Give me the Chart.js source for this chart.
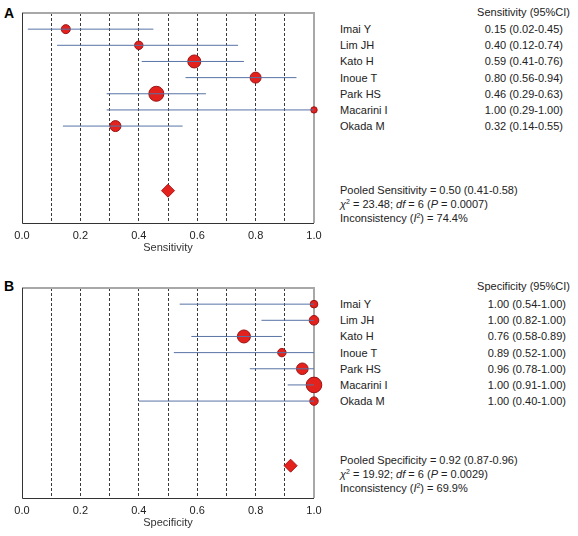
<!DOCTYPE html>
<html>
<head>
<meta charset="utf-8">
<script src="https://cdn.jsdelivr.net/npm/chart.js@4.4.0/dist/chart.umd.min.js"></script>
<style>
  html, body { margin:0; padding:0; background:#fff; }
  body { width:578px; height:536px; position:relative; overflow:hidden;
         font-family:"Liberation Sans", Arial, sans-serif; font-size:11px; color:#222; }
  .cv { position:absolute; left:0; width:330px; height:270px; }
  .t { position:absolute; line-height:14px; white-space:nowrap; }
  .r { text-align:right; }
  .lbl { position:absolute; font-weight:bold; font-size:14px; line-height:16px; color:#000; }
  sup { font-size:7px; vertical-align:top; position:relative; top:-2px; }
</style>
</head>
<body>
<div class="lbl" style="left:4px;top:5px;">A</div>
<div class="lbl" style="left:4px;top:278px;">B</div>
<canvas id="cA" class="cv" width="330" height="270" style="top:0px;"></canvas>
<canvas id="cB" class="cv" width="330" height="270" style="top:275px;"></canvas>
<div id="txt"></div>
<script>
// ---- data ----
const studies = ["Imai Y", "Lim JH", "Kato H", "Inoue T", "Park HS", "Macarini I", "Okada M"];
const sensitivity = [0.15, 0.40, 0.59, 0.80, 0.46, 1.00, 0.32];
const sensLower   = [0.02, 0.12, 0.41, 0.56, 0.29, 0.29, 0.14];
const sensUpper   = [0.45, 0.74, 0.76, 0.94, 0.63, 1.00, 0.55];
const sensWeight  = [4.5, 4.2, 6.5, 5.5, 7.5, 3.2, 5.5];
const specificity = [1.00, 1.00, 0.76, 0.89, 0.96, 1.00, 1.00];
const specLower   = [0.54, 0.82, 0.58, 0.52, 0.78, 0.91, 0.40];
const specUpper   = [1.00, 1.00, 0.89, 1.00, 1.00, 1.00, 1.00];
const specWeight  = [3.8, 4.8, 6.5, 4.2, 5.8, 7.8, 4.2];
const pooledSens = [0.50, 0.41, 0.58];
const pooledSpec = [0.92, 0.87, 0.96];
const statsSens = {chi2: "23.48", df: 6, p: "0.0007", i2: "74.4%"};
const statsSpec = {chi2: "19.92", df: 6, p: "0.0029", i2: "69.9%"};
const xTicks = [0, 0.1, 0.2, 0.3, 0.4, 0.5, 0.6, 0.7, 0.8, 0.9, 1.0];

Chart.defaults.font.family = '"Liberation Sans", Arial, sans-serif';
Chart.defaults.font.size = 11;
Chart.defaults.color = '#222';

const framePlugin = {
  id: 'frame',
  beforeDatasetsDraw(chart) {
    const {ctx, chartArea: a} = chart;
    ctx.save();
    ctx.strokeStyle = '#a8a8a8';
    ctx.lineWidth = 2;
    ctx.beginPath();
    ctx.moveTo(a.left, a.top); ctx.lineTo(a.right, a.top); ctx.lineTo(a.right, a.bottom);
    ctx.stroke();
    ctx.strokeStyle = '#333';
    ctx.lineWidth = 1;
    ctx.beginPath();
    ctx.moveTo(a.left + 0.5, a.top); ctx.lineTo(a.left + 0.5, a.bottom + 0.5); ctx.lineTo(a.right, a.bottom + 0.5);
    ctx.stroke();
    ctx.restore();
  }
};

function makeChart(id, title, est, lo, hi, w, pooled) {
  const datasets = [];
  est.forEach((v, i) => {
    datasets.push({
      type: 'line',
      data: [{x: lo[i], y: i + 1}, {x: hi[i], y: i + 1}],
      borderColor: '#5873a6', borderWidth: 1, pointRadius: 0, fill: false, clip: false
    });
  });
  datasets.push({
    type: 'bubble',
    data: est.map((v, i) => ({x: v, y: i + 1, r: w[i]})),
    backgroundColor: '#e3211d', borderColor: '#9a1212', borderWidth: 1, clip: false
  });
  datasets.push({
    type: 'scatter',
    data: [{x: pooled[0], y: 11}],
    pointStyle: 'rectRot', pointRadius: 6.5,
    backgroundColor: '#e3211d', borderColor: '#b01515', borderWidth: 1, clip: false
  });
  return new Chart(document.getElementById(id), {
    type: 'scatter',
    data: { datasets },
    options: {
      responsive: false, animation: false,
      layout: { padding: { left: 22, right: 16, top: 13, bottom: 11 } },
      plugins: { legend: { display: false }, tooltip: { enabled: false } },
      scales: {
        x: {
          type: 'linear', min: 0, max: 1,
          afterBuildTicks: (s) => { s.ticks = xTicks.map(v => ({value: v})); },
          afterFit: (s) => { s.height = 36; },
          ticks: {
            padding: 6, maxRotation: 0, autoSkip: false,
            callback: (v) => (Math.round(v * 10) % 2 === 0 ? v.toFixed(1) : ''),
            color: '#222'
          },
          grid: {
            drawTicks: false, lineWidth: 1,
            color: (c) => (c.tick && (c.tick.value === 0 || c.tick.value === 1) ? 'rgba(0,0,0,0)' : '#3a3a3a')
          },
          border: { display: false, dash: [3, 2] },
          title: { display: true, text: title, color: '#333', padding: { top: 2, bottom: 4 } }
        },
        y: { type: 'linear', min: 0, max: 13, reverse: true, display: false }
      }
    },
    plugins: [framePlugin]
  });
}

makeChart('cA', 'Sensitivity', sensitivity, sensLower, sensUpper, sensWeight, pooledSens);
makeChart('cB', 'Specificity', specificity, specLower, specUpper, specWeight, pooledSpec);

// ---- right-hand text ----
const txt = document.getElementById('txt');
function put(html, x, y, right) {
  const d = document.createElement('div');
  d.className = 't' + (right ? ' r' : '');
  d.innerHTML = html;
  d.style.top = (y - 7) + 'px';
  if (right) { d.style.right = (578 - x) + 'px'; } else { d.style.left = x + 'px'; }
  txt.appendChild(d);
}
function panelText(offsetRows, headerY, header, est, lo, hi, valRight, pooledY, pooledLabel, pooled, st) {
  put(header, 570, headerY, true);
  studies.forEach((s, i) => {
    const y = offsetRows + i * 16.2;
    put(s, 340, y, false);
    put(est[i].toFixed(2) + ' (' + lo[i].toFixed(2) + '-' + hi[i].toFixed(2) + ')', valRight, y, true);
  });
  put(pooledLabel + ' = ' + pooled[0].toFixed(2) + ' (' + pooled[1].toFixed(2) + '-' + pooled[2].toFixed(2) + ')', 340, pooledY, false);
  put('<i>&chi;</i><sup>2</sup> = ' + st.chi2 + '; <i>df</i> = ' + st.df + ' (<i>P</i> = ' + st.p + ')', 340, pooledY + 14, false);
  put('Inconsistency (<i>I</i><sup>2</sup>) = ' + st.i2, 340, pooledY + 28, false);
}
panelText(29, 12, 'Sensitivity (95%CI)', sensitivity, sensLower, sensUpper, 563, 190, 'Pooled Sensitivity', pooledSens, statsSens);
panelText(304, 286, 'Specificity (95%CI)', specificity, specLower, specUpper, 566, 460, 'Pooled Specificity', pooledSpec, statsSpec);
</script>
</body>
</html>
